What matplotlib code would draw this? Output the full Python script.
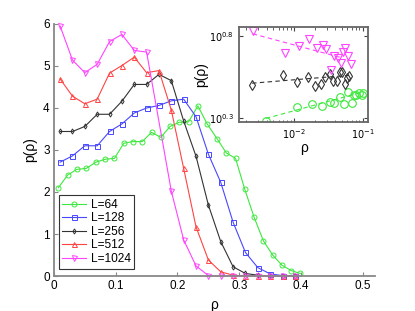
import matplotlib

matplotlib.use("Agg")

import matplotlib.pyplot as plt
import numpy as np
from matplotlib.ticker import FixedLocator, NullLocator, LogLocator

plt.rcParams["font.family"] = ["Liberation Sans", "DejaVu Sans"]

# main panel: rho bins and p(rho) for each system size
rho_64 = [0.007, 0.022, 0.037, 0.052, 0.068, 0.083, 0.098, 0.113, 0.128, 0.143,
          0.158, 0.173, 0.188, 0.203, 0.218, 0.233, 0.248, 0.264, 0.279, 0.294,
          0.309, 0.324, 0.339, 0.354, 0.369, 0.384, 0.399]
p_64 = [2.10, 2.40, 2.54, 2.56, 2.71, 2.78, 2.80, 3.16, 3.20, 3.20,
        3.42, 3.30, 3.56, 3.66, 3.67, 4.05, 3.62, 3.27, 2.93, 2.80,
        2.06, 1.40, 0.84, 0.50, 0.26, 0.13, 0.06]

rho_128 = [0.01, 0.03, 0.05, 0.07, 0.09, 0.11, 0.13, 0.15, 0.17, 0.19,
           0.21, 0.23, 0.25, 0.27, 0.29, 0.31, 0.33, 0.35, 0.37, 0.39]
p_128 = [2.71, 2.86, 3.10, 3.10, 3.44, 3.62, 3.88, 4.00, 4.06, 4.17,
         4.21, 3.79, 2.90, 2.23, 1.28, 0.56, 0.20, 0.05, 0.01, 0.0]

rho_256 = [0.01, 0.03, 0.05, 0.07, 0.09, 0.11, 0.13, 0.15, 0.17, 0.19,
           0.21, 0.23, 0.25, 0.27, 0.29, 0.31, 0.33, 0.35, 0.37, 0.39]
p_256 = [3.44, 3.44, 3.56, 3.85, 3.85, 4.16, 4.56, 4.56, 4.80, 4.65,
         3.69, 2.85, 1.69, 0.82, 0.22, 0.06, 0.02, 0.0, 0.0, 0.0]

rho_512 = [0.01, 0.03, 0.05, 0.07, 0.09, 0.11, 0.13, 0.15, 0.17, 0.19,
           0.21, 0.23, 0.25, 0.27, 0.29, 0.31, 0.33, 0.35, 0.37, 0.39]
p_512 = [4.69, 4.28, 4.10, 4.21, 4.83, 5.01, 5.21, 4.84, 4.89, 3.95,
         2.56, 1.17, 0.38, 0.10, 0.02, 0.0, 0.0, 0.0, 0.0, 0.0]

rho_1024 = [0.01, 0.03, 0.05, 0.07, 0.09, 0.11, 0.13, 0.15, 0.19,
            0.21, 0.23, 0.25, 0.27, 0.29, 0.31, 0.33, 0.35, 0.37, 0.39]
p_1024 = [5.95, 5.14, 4.84, 5.04, 5.58, 5.75, 5.37, 5.33, 2.02,
          0.86, 0.24, 0.01, 0.0, 0.0, 0.0, 0.0, 0.0, 0.0, 0.0]

labels = ["L=64", "L=128", "L=256", "L=512", "L=1024"]
colors = ["#3ee83e", "#4848ff", "#333333", "#ff4444", "#ff44ff"]
markers = ["o", "s", "d", "^", "v"]

# inset: log10 of rho and p(rho) (log-log scatter + dashed power-law fits)
inset_lrho_1024 = [-2.60, -2.13, -1.92, -1.78, -1.67, -1.58, -1.53, -1.46, -1.41,
                   -1.36, -1.31, -1.29, -1.25, -1.21, -1.17]
inset_lp_1024 = [0.830, 0.697, 0.739, 0.780, 0.727, 0.744, 0.719, 0.596, 0.677,
                 0.667, 0.638, 0.703, 0.729, 0.677, 0.632]
inset_lrho_256 = [-2.61, -2.16, -1.95, -1.80, -1.70, -1.61, -1.55, -1.47, -1.43,
                  -1.38, -1.33, -1.30, -1.26, -1.23, -1.20]
inset_lp_256 = [0.505, 0.565, 0.521, 0.552, 0.495, 0.509, 0.552, 0.568, 0.525,
                0.525, 0.582, 0.582, 0.511, 0.547, 0.558]
inset_lrho_64 = [-2.41, -1.95, -1.73, -1.59, -1.48, -1.41, -1.33, -1.27, -1.21,
                 -1.16, -1.13, -1.09, -1.05, -1.01, -0.99]
inset_lp_64 = [0.285, 0.370, 0.390, 0.374, 0.400, 0.394, 0.430, 0.390, 0.461,
               0.396, 0.444, 0.444, 0.456, 0.441, 0.456]

fit_lrho_1024 = [-2.60, -1.29]
fit_lp_1024 = [0.814, 0.667]
fit_lrho_256 = [-2.61, -1.20]
fit_lp_256 = [0.514, 0.562]
fit_lrho_64 = [-2.41, -1.05]
fit_lp_64 = [0.300, 0.455]


def main() -> None:
    fig = plt.figure(figsize=(4.15, 3.11), dpi=100)
    ax = fig.add_axes([0.130, 0.1125, 0.774, 0.8105])

    series = [(rho_64, p_64), (rho_128, p_128), (rho_256, p_256),
              (rho_512, p_512), (rho_1024, p_1024)]
    for (x, y), lab, col, mk in zip(series, labels, colors, markers):
        ms = 2.6 if mk == "d" else 3.6
        ax.plot(x, y, color=col, lw=0.8, marker=mk, ms=ms, mfc="none",
                mec=col, mew=0.7, label=lab, clip_on=False)

    ax.set_xlim(0, 0.52)
    ax.set_ylim(0, 6)
    ax.set_xticks([0, 0.1, 0.2, 0.3, 0.4, 0.5])
    ax.set_xticklabels(["0", "0.1", "0.2", "0.3", "0.4", "0.5"])
    ax.set_yticks(range(7))
    ax.tick_params(direction="in", length=3, width=0.8, labelsize=8.5,
                   colors="#888888", labelcolor="black", pad=3)
    for side in ("top", "right"):
        ax.spines[side].set_visible(False)
    for side in ("left", "bottom"):
        ax.spines[side].set_color("#888888")
        ax.spines[side].set_linewidth(1.3)
    ax.set_xlabel("ρ", fontsize=10, labelpad=4)
    ax.set_ylabel("p(ρ)", fontsize=10, labelpad=4)

    leg = ax.legend(loc="lower left", bbox_to_anchor=(0.008, 0.02), fontsize=8.6,
                    fancybox=False, framealpha=1, edgecolor="#333333",
                    handlelength=2.0, borderpad=0.3, labelspacing=0.13,
                    handletextpad=0.35, borderaxespad=0.2)
    leg.get_frame().set_linewidth(0.8)

    # inset
    ins = fig.add_axes([0.576, 0.608, 0.311, 0.305])
    ins.set_xscale("log")
    ins.set_yscale("log")
    pts = [(inset_lrho_64, inset_lp_64, fit_lrho_64, fit_lp_64, colors[0], "o", 5.5),
           (inset_lrho_256, inset_lp_256, fit_lrho_256, fit_lp_256, colors[2], "d", 4.8),
           (inset_lrho_1024, inset_lp_1024, fit_lrho_1024, fit_lp_1024, colors[4], "v", 5.5)]
    for lx, ly, fx, fy, col, mk, ms in pts:
        ins.plot(10 ** np.asarray(fx), 10 ** np.asarray(fy), ls=(0, (4, 3)),
                 color=col, lw=0.8)
        ins.plot(10 ** np.asarray(lx), 10 ** np.asarray(ly), ls="none", marker=mk,
                 ms=ms, mfc="none", mec=col, mew=0.8)

    ins.set_xlim(10 ** -2.8, 10 ** -0.92)
    ins.set_ylim(10 ** 0.279, 10 ** 0.855)
    ins.xaxis.set_major_locator(FixedLocator([1e-2, 1e-1]))
    ins.xaxis.set_minor_locator(LogLocator(base=10, subs=np.arange(2, 10)))
    ins.set_xticklabels([r"$10^{-2}$", r"$10^{-1}$"])
    ins.yaxis.set_major_locator(FixedLocator([10 ** 0.3, 10 ** 0.8]))
    ins.yaxis.set_minor_locator(NullLocator())
    ins.set_yticklabels([r"$10^{0.3}$", r"$10^{0.8}$"])
    ins.tick_params(which="both", direction="in", top=True, right=True,
                    labelsize=7, colors="#444444", labelcolor="black")
    ins.tick_params(which="major", length=3, width=0.8)
    ins.tick_params(which="minor", length=1.8, width=0.6)
    for s in ins.spines.values():
        s.set_color("#666666")
        s.set_linewidth(1.3)
    ins.set_xlabel("ρ", fontsize=10, labelpad=0)
    ins.set_ylabel("p(ρ)", fontsize=10, labelpad=1)

    fig.savefig("out.png", dpi=100)
    plt.close(fig)


if __name__ == "__main__":
    main()
